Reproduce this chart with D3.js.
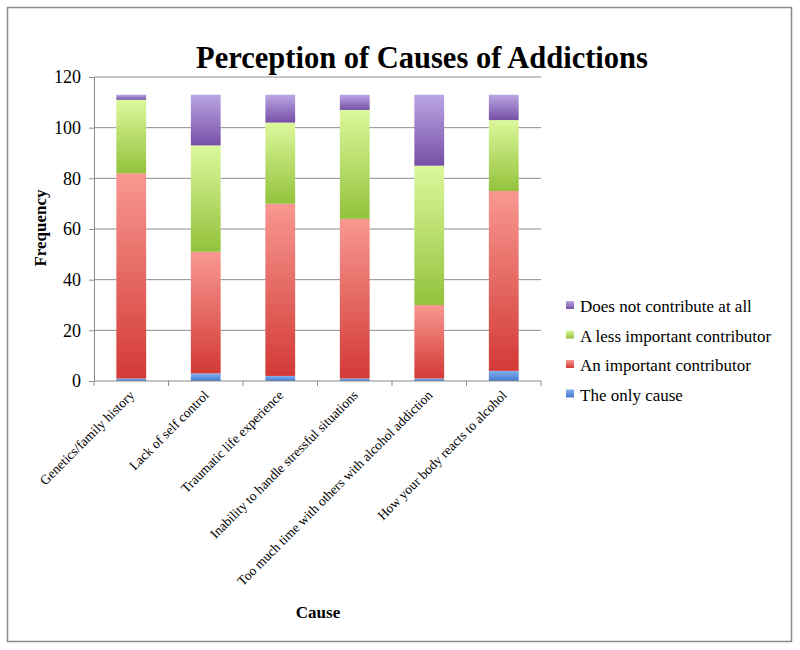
<!DOCTYPE html>
<html>
<head>
<meta charset="utf-8">
<script src="https://cdn.jsdelivr.net/npm/d3@7"></script>
<style>
  body { margin: 0; background: #fff; }
  svg text { font-family: "Liberation Serif", "DejaVu Serif", serif !important; }
</style>
</head>
<body>
<div id="chart"></div>
<script>
// chart data
var causes = ["Genetics/family history", "Lack of self control", "Traumatic life experience",
              "Inability to handle stressful situations", "Too much time with others with alcohol addiction",
              "How your body reacts to alcohol"];
var seriesNames = ["The only cause", "An important contributor", "A less important contributor", "Does not contribute at all"];
var onlyCause      = [1, 3, 2, 1, 1, 4];
var important      = [81, 48, 68, 63, 29, 71];
var lessImportant  = [29, 42, 32, 43, 55, 28];
var notContribute  = [2, 20, 11, 6, 28, 10];
var yTicks = [0, 20, 40, 60, 80, 100, 120];

var width = 800, height = 650;
var margin = {top: 77, right: 259, bottom: 269, left: 94};
var plotW = width - margin.left - margin.right,
    plotH = height - margin.top - margin.bottom;
var serif = "'Liberation Serif', 'DejaVu Serif', serif";

// light (top) and dark (bottom) colour of each series
var shades = [
  ["#86b0ee", "#3f78cf"],
  ["#f89891", "#d33a36"],
  ["#dcf89c", "#93c23c"],
  ["#bca6e4", "#7650a6"]
];

var svg = d3.select("#chart").append("svg")
    .attr("width", width)
    .attr("height", height)
    .attr("font-family", serif);

// outer frame
svg.append("rect")
    .attr("x", 7.5).attr("y", 7.5)
    .attr("width", 784).attr("height", 634)
    .attr("fill", "#fff")
    .attr("stroke", "#8a8a8a")
    .attr("stroke-width", 1.5);

var defs = svg.append("defs");
shades.forEach(function(c, i) {
  var g = defs.append("linearGradient")
      .attr("id", "grad" + i)
      .attr("x1", "0%").attr("y1", "0%")
      .attr("x2", "0%").attr("y2", "100%");
  g.append("stop").attr("offset", "0%").attr("stop-color", c[0]);
  g.append("stop").attr("offset", "100%").attr("stop-color", c[1]);
});

var g = svg.append("g")
    .attr("transform", "translate(" + margin.left + "," + margin.top + ")");

var x = d3.scaleBand()
    .domain(causes)
    .range([0, plotW])
    .paddingInner(0.6)
    .paddingOuter(0.3);

var y = d3.scaleLinear()
    .domain([0, 120])
    .range([plotH, 0]);

// gridlines
g.selectAll(".grid")
    .data(yTicks.slice(1))
    .enter().append("line")
    .attr("x1", 0).attr("x2", plotW)
    .attr("y1", function(d) { return y(d); })
    .attr("y2", function(d) { return y(d); })
    .attr("stroke", "#8c8c8c")
    .attr("stroke-width", 1);

// stacked bars
var rows = causes.map(function(c, i) {
  return {cause: c, s0: onlyCause[i], s1: important[i], s2: lessImportant[i], s3: notContribute[i]};
});
var stack = d3.stack().keys(["s0", "s1", "s2", "s3"]);
var layers = stack(rows);

g.selectAll(".layer")
    .data(layers)
    .enter().append("g")
    .attr("fill", function(d, i) { return "url(#grad" + i + ")"; })
    .selectAll("rect")
    .data(function(d) { return d; })
    .enter().append("rect")
    .attr("x", function(d) { return x(d.data.cause); })
    .attr("y", function(d) { return y(d[1]); })
    .attr("width", x.bandwidth())
    .attr("height", function(d) { return y(d[0]) - y(d[1]); });

// y axis
var yAxis = d3.axisLeft(y).tickValues(yTicks).tickSize(5).tickPadding(8);
var ya = g.append("g").call(yAxis)
    .attr("font-family", serif)
    .attr("font-size", 18);
ya.select(".domain").attr("stroke", "#8c8c8c");
ya.selectAll(".tick line").attr("stroke", "#8c8c8c");
ya.selectAll(".tick text").attr("fill", "#000");

// x axis with ticks between categories
var xa = g.append("g").attr("transform", "translate(0," + plotH + ")");
xa.append("line")
    .attr("x1", 0).attr("x2", plotW)
    .attr("stroke", "#8c8c8c");
xa.selectAll(".xtick")
    .data(d3.range(causes.length + 1))
    .enter().append("line")
    .attr("x1", function(d) { return d * x.step() * plotW / (x.step() * causes.length); })
    .attr("x2", function(d) { return d * x.step() * plotW / (x.step() * causes.length); })
    .attr("y1", 0).attr("y2", 5)
    .attr("stroke", "#8c8c8c");

xa.selectAll(".xlabel")
    .data(causes)
    .enter().append("text")
    .attr("transform", function(d) {
      return "translate(" + (x(d) + x.bandwidth() / 2 + 4) + ",15) rotate(-45)";
    })
    .attr("text-anchor", "end")
    .attr("font-size", "13.5px")
    .text(function(d) { return d; });

// title
svg.append("text")
    .attr("x", 422).attr("y", 68)
    .attr("text-anchor", "middle")
    .attr("font-size", "30.5px")
    .attr("font-weight", "bold")
    .text("Perception of Causes of Addictions");

// axis titles
svg.append("text")
    .attr("transform", "translate(46,228) rotate(-90)")
    .attr("text-anchor", "middle")
    .attr("font-size", "17px")
    .attr("font-weight", "bold")
    .text("Frequency");

svg.append("text")
    .attr("x", 318).attr("y", 618)
    .attr("text-anchor", "middle")
    .attr("font-size", "17px")
    .attr("font-weight", "bold")
    .text("Cause");

// legend, top entry is the last series
var legend = svg.append("g").attr("transform", "translate(566,298)");
var order = [3, 2, 1, 0];
order.forEach(function(si, k) {
  var row = legend.append("g").attr("transform", "translate(0," + (k * 29.5) + ")");
  row.append("rect")
      .attr("x", 0).attr("y", 3)
      .attr("width", 8).attr("height", 8)
      .attr("fill", "url(#grad" + si + ")");
  row.append("text")
      .attr("x", 14).attr("y", 14)
      .attr("font-size", "17px")
      .text(seriesNames[si]);
});
</script>
</body>
</html>
